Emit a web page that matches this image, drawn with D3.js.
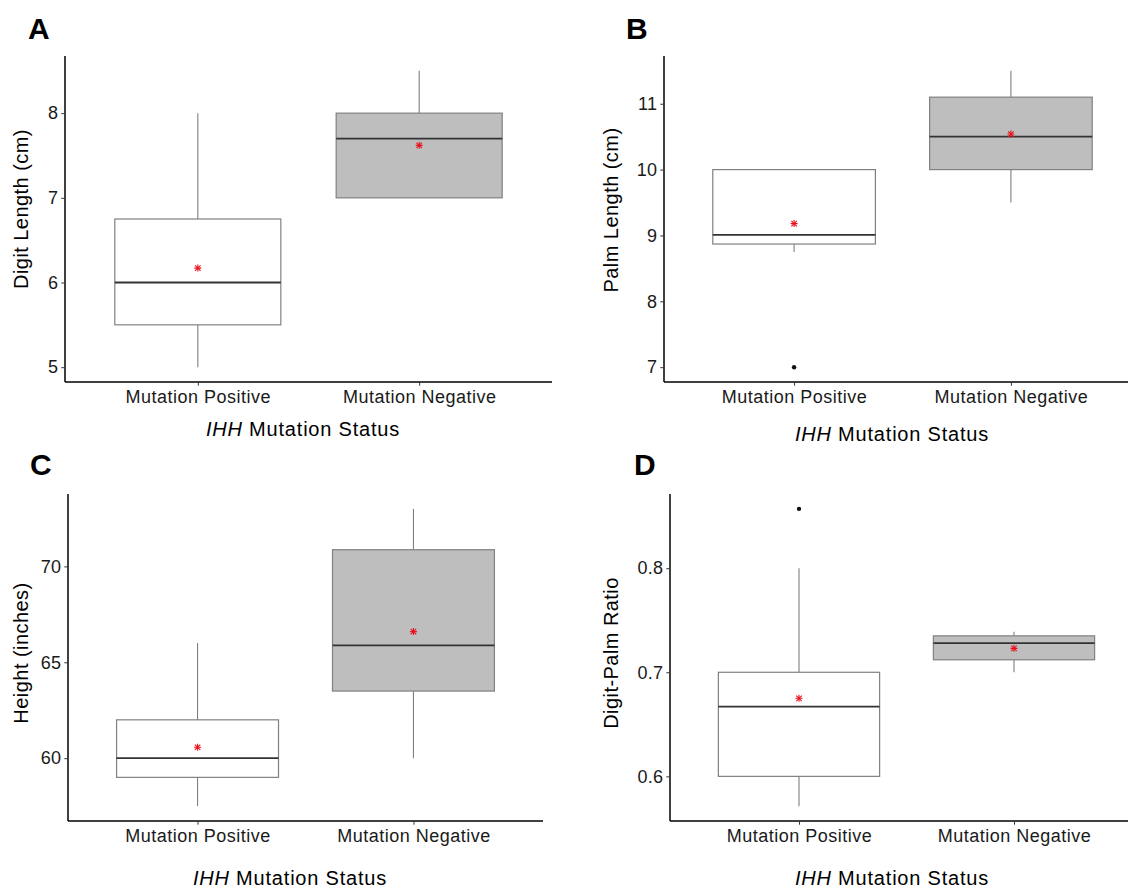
<!DOCTYPE html>
<html>
<head>
<meta charset="utf-8">
<script src="https://cdn.jsdelivr.net/npm/d3@7"></script>
<style>
  html, body { margin: 0; padding: 0; background: #fff; }
  svg { display: block; font-family: "Liberation Sans", Arial, sans-serif; }
</style>
</head>
<body>
<svg id="chart" width="1128" height="888"></svg>
<script>
// ---------- data ----------
const categories = ["Mutation Positive", "Mutation Negative"];
const xTitleItalic = "IHH";
const xTitleRest = " Mutation Status";

// [lower whisker, Q1, median, Q3, upper whisker] per category
const digitStats  = [[5, 5.5, 6, 6.75, 8], [7, 7, 7.7, 8, 8.5]];
const digitMeans  = [6.17, 7.62];
const digitOutliers = [[], []];
const digitTicks  = [5, 6, 7, 8];

const palmStats   = [[8.75, 8.87, 9.01, 10, 10], [9.5, 10, 10.5, 11.1, 11.5]];
const palmMeans   = [9.18, 10.54];
const palmOutliers = [[7], []];
const palmTicks   = [7, 8, 9, 10, 11];

const heightStats = [[57.5, 59, 60, 62, 66], [60, 63.5, 65.88, 70.87, 73]];
const heightMeans = [60.57, 66.6];
const heightOutliers = [[], []];
const heightTicks = [60, 65, 70];

const ratioStats  = [[0.5714, 0.6, 0.667, 0.7, 0.8], [0.7, 0.712, 0.728, 0.735, 0.739]];
const ratioMeans  = [0.675, 0.723];
const ratioOutliers = [[0.857], []];
const ratioTicks  = [0.6, 0.7, 0.8];

const panelLetters = ["A", "B", "C", "D"];
const yTitles = ["Digit Length (cm)", "Palm Length (cm)", "Height (inches)", "Digit-Palm Ratio"];
const boxFills = ["#ffffff", "#bebebe"];

// ---------- layout ----------
const layouts = [
  {left: 65,  right: 552,  top: 56,  bottom: 382, letterX: 28,  letterY: 39,  yTitleX: 28,  yTitleY: 209, xTitleX: 303, xTitleY: 436},
  {left: 664, right: 1141, top: 56,  bottom: 382, letterX: 626, letterY: 39,  yTitleX: 618, yTitleY: 210, xTitleX: 892, xTitleY: 441},
  {left: 68,  right: 543,  top: 494, bottom: 821, letterX: 30,  letterY: 475, yTitleX: 28,  yTitleY: 653, xTitleX: 290, xTitleY: 885},
  {left: 670, right: 1143, top: 494, bottom: 821, letterX: 634, letterY: 475, yTitleX: 618, yTitleY: 653, xTitleX: 892, xTitleY: 885}
];

const panels = [
  {stats: digitStats,  means: digitMeans,  outliers: digitOutliers,  ticks: digitTicks,  fmt: d3.format("d")},
  {stats: palmStats,   means: palmMeans,   outliers: palmOutliers,   ticks: palmTicks,   fmt: d3.format("d")},
  {stats: heightStats, means: heightMeans, outliers: heightOutliers, ticks: heightTicks, fmt: d3.format("d")},
  {stats: ratioStats,  means: ratioMeans,  outliers: ratioOutliers,  ticks: ratioTicks,  fmt: d3.format(".1f")}
];

const svg = d3.select("#chart");

panels.forEach((p, i) => {
  const L = layouts[i];
  const g = svg.append("g");

  // y domain with ggplot-style 5% expansion
  const allVals = p.stats.flat().concat(p.outliers.flat());
  const lo = d3.min(allVals), hi = d3.max(allVals);
  const pad = (hi - lo) * 0.05;
  const y = d3.scaleLinear().domain([lo - pad, hi + pad]).range([L.bottom, L.top]);
  const x = d3.scalePoint().domain(categories).range([L.left, L.right]).padding(0.6);
  const bw = x.step() * 0.75;

  // boxes
  categories.forEach((c, j) => {
    const [wl, q1, med, q3, wh] = p.stats[j];
    const cx = x(c);
    const bg = g.append("g");
    bg.append("line").attr("x1", cx).attr("x2", cx).attr("y1", y(q3)).attr("y2", y(wh))
      .attr("stroke", "#7f7f7f").attr("stroke-width", 1.1);
    bg.append("line").attr("x1", cx).attr("x2", cx).attr("y1", y(q1)).attr("y2", y(wl))
      .attr("stroke", "#7f7f7f").attr("stroke-width", 1.1);
    bg.append("rect").attr("x", cx - bw / 2).attr("y", y(q3))
      .attr("width", bw).attr("height", y(q1) - y(q3))
      .attr("fill", boxFills[j]).attr("stroke", "#808080").attr("stroke-width", 1.2);
    bg.append("line").attr("x1", cx - bw / 2).attr("x2", cx + bw / 2)
      .attr("y1", y(med)).attr("y2", y(med))
      .attr("stroke", "#333333").attr("stroke-width", 1.8);
    p.outliers[j].forEach(v => {
      bg.append("circle").attr("cx", cx).attr("cy", y(v)).attr("r", 2.2).attr("fill", "#111");
    });
    const mg = bg.append("g").attr("transform", `translate(${cx},${y(p.means[j])})`)
      .attr("stroke", "#e8101a").attr("stroke-width", 1.1).attr("fill", "none");
    mg.append("path").attr("d", d3.symbol().type(d3.symbolPlus).size(18)());
    mg.append("path").attr("d", d3.symbol().type(d3.symbolTimes).size(21)());
  });

  // y axis
  const yAxis = g.append("g").attr("transform", `translate(${L.left},0)`)
    .call(d3.axisLeft(y).tickValues(p.ticks).tickFormat(p.fmt).tickSize(3.7).tickPadding(3).tickSizeOuter(0));
  yAxis.select(".domain").attr("stroke", "#000").attr("stroke-width", 1.5)
    .attr("d", `M0,${L.top}V${L.bottom}`);
  yAxis.selectAll(".tick line").attr("stroke", "#333").attr("stroke-width", 1);
  yAxis.selectAll(".tick text").attr("font-size", 18).attr("fill", "#1a1a1a")
    .attr("font-family", "Liberation Sans, Arial, sans-serif").attr("letter-spacing", "0.3px");

  // x axis
  const xAxis = g.append("g").attr("transform", `translate(0,${L.bottom})`)
    .call(d3.axisBottom(x).tickSize(3.7).tickPadding(4).tickSizeOuter(0));
  xAxis.select(".domain").attr("stroke", "#000").attr("stroke-width", 1.5)
    .attr("d", `M${L.left},0H${L.right}`);
  xAxis.selectAll(".tick line").attr("stroke", "#333").attr("stroke-width", 1);
  xAxis.selectAll(".tick text").attr("font-size", 18).attr("fill", "#1a1a1a")
    .attr("font-family", "Liberation Sans, Arial, sans-serif").attr("letter-spacing", "0.5px")
    .attr("dy", null).attr("y", 20.7);

  // x title
  const xt = g.append("text").attr("x", L.xTitleX)
    .attr("y", L.xTitleY).attr("text-anchor", "middle")
    .attr("font-size", 20).attr("fill", "#000").attr("letter-spacing", "0.8px");
  xt.append("tspan").attr("font-style", "italic").text(xTitleItalic);
  xt.append("tspan").text(xTitleRest);

  // y title
  g.append("text").attr("transform", `translate(${L.yTitleX},${L.yTitleY}) rotate(-90)`)
    .attr("text-anchor", "middle").attr("font-size", 20).attr("fill", "#000")
    .attr("letter-spacing", "0.45px").text(yTitles[i]);

  // panel letter
  g.append("text").attr("x", L.letterX).attr("y", L.letterY)
    .attr("font-size", 30).attr("font-weight", "bold").attr("fill", "#000")
    .text(panelLetters[i]);
});
</script>
</body>
</html>
